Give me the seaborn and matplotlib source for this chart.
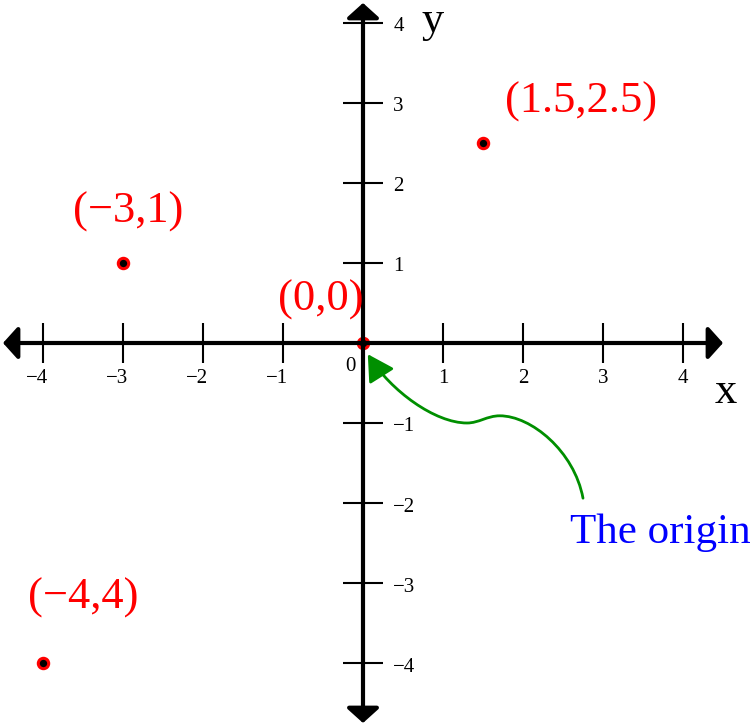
import matplotlib
matplotlib.use("Agg")
import matplotlib.pyplot as plt
from matplotlib.path import Path
from matplotlib.patches import FancyArrowPatch
import seaborn as sns
import pandas as pd

sns.set_style("white")
plt.rcParams["font.family"] = ["Liberation Serif", "DejaVu Serif"]
plt.rcParams["text.color"] = "black"

# data
point_x = [1.5, -3, 0, -4]
point_y = [2.5, 1, 0, -4]
point_labels = ["(1.5,2.5)", "(\u22123,1)", "(0,0)", "(\u22124,4)"]
tick_values = [-4, -3, -2, -1, 1, 2, 3, 4]
tick_labels = ["\u22124", "\u22123", "\u22122", "\u22121", "1", "2", "3", "4"]

fig = plt.figure(figsize=(7.55, 7.27), dpi=100)
ax = fig.add_axes([0, 0, 1, 1])
ax.set_xlim(-4.5375, 4.9)
ax.set_ylim(-4.8, 4.2875)
ax.axis("off")

# axes with arrows at both ends
axis_style = dict(arrowstyle="<|-|>,head_length=0.45,head_width=0.5", lw=3, color="black",
                  mutation_scale=20, shrinkA=0, shrinkB=0)
ax.annotate("", xy=(4.5, 0), xytext=(-4.5, 0), arrowprops=axis_style, zorder=3)
ax.annotate("", xy=(0, 4.25), xytext=(0, -4.75), arrowprops=axis_style, zorder=3)

# tick marks and labels
ax.vlines(tick_values, -0.25, 0.25, color="black", lw=1.5, zorder=3)
ax.hlines(tick_values, -0.25, 0.25, color="black", lw=1.5, zorder=3)
for v, lab in zip(tick_values, tick_labels):
    if v < 0:
        ax.text(v + 0.06, -0.44, lab, ha="right", va="center", fontsize=15)
    else:
        ax.text(v, -0.44, lab, ha="center", va="center", fontsize=15)
    ax.text(0.38, v - 0.05, lab, ha="left", va="center", fontsize=15)
ax.text(-0.16, -0.29, "0", ha="center", va="center", fontsize=15)

ax.text(4.53, -0.75, "x", ha="center", va="baseline", fontsize=32)
ax.text(0.875, 3.89, "y", ha="center", va="baseline", fontsize=32)

# points
df = pd.DataFrame({"x": point_x, "y": point_y, "label": point_labels})
sns.scatterplot(data=df, x="x", y="y", ax=ax, s=56, color="black",
                edgecolor="red", linewidth=2.2, zorder=2, legend=False)
ax.set_xlim(-4.5375, 4.9)
ax.set_ylim(-4.8, 4.2875)

label_offsets = [(1.22, 0.51), (0.06, 0.64), (-0.53, 0.54), (0.5, 0.81)]
for (px, py, lab), (dx, dy) in zip(zip(point_x, point_y, point_labels), label_offsets):
    ax.text(px + dx, py + dy, lab, ha="center", va="center", fontsize=32, color="red")

# curved pointer to the origin
verts = [(2.75, -1.94), (2.64, -1.35), (2.1, -0.91), (1.71, -0.91),
         (1.55, -0.91), (1.45, -1.0), (1.3, -1.0),
         (0.9, -1.0), (0.35, -0.6), (0.06, -0.14)]
codes = [Path.MOVETO] + [Path.CURVE4] * 9
arrow = FancyArrowPatch(path=Path(verts, codes), arrowstyle="-|>,head_length=0.8,head_width=0.45",
                        mutation_scale=20, color="#008f00", lw=2, zorder=4)
ax.add_patch(arrow)
ax.text(2.59, -2.5, "The origin", ha="left", va="baseline", fontsize=31, color="blue")

fig.savefig("out.png", dpi=100)
plt.close(fig)
